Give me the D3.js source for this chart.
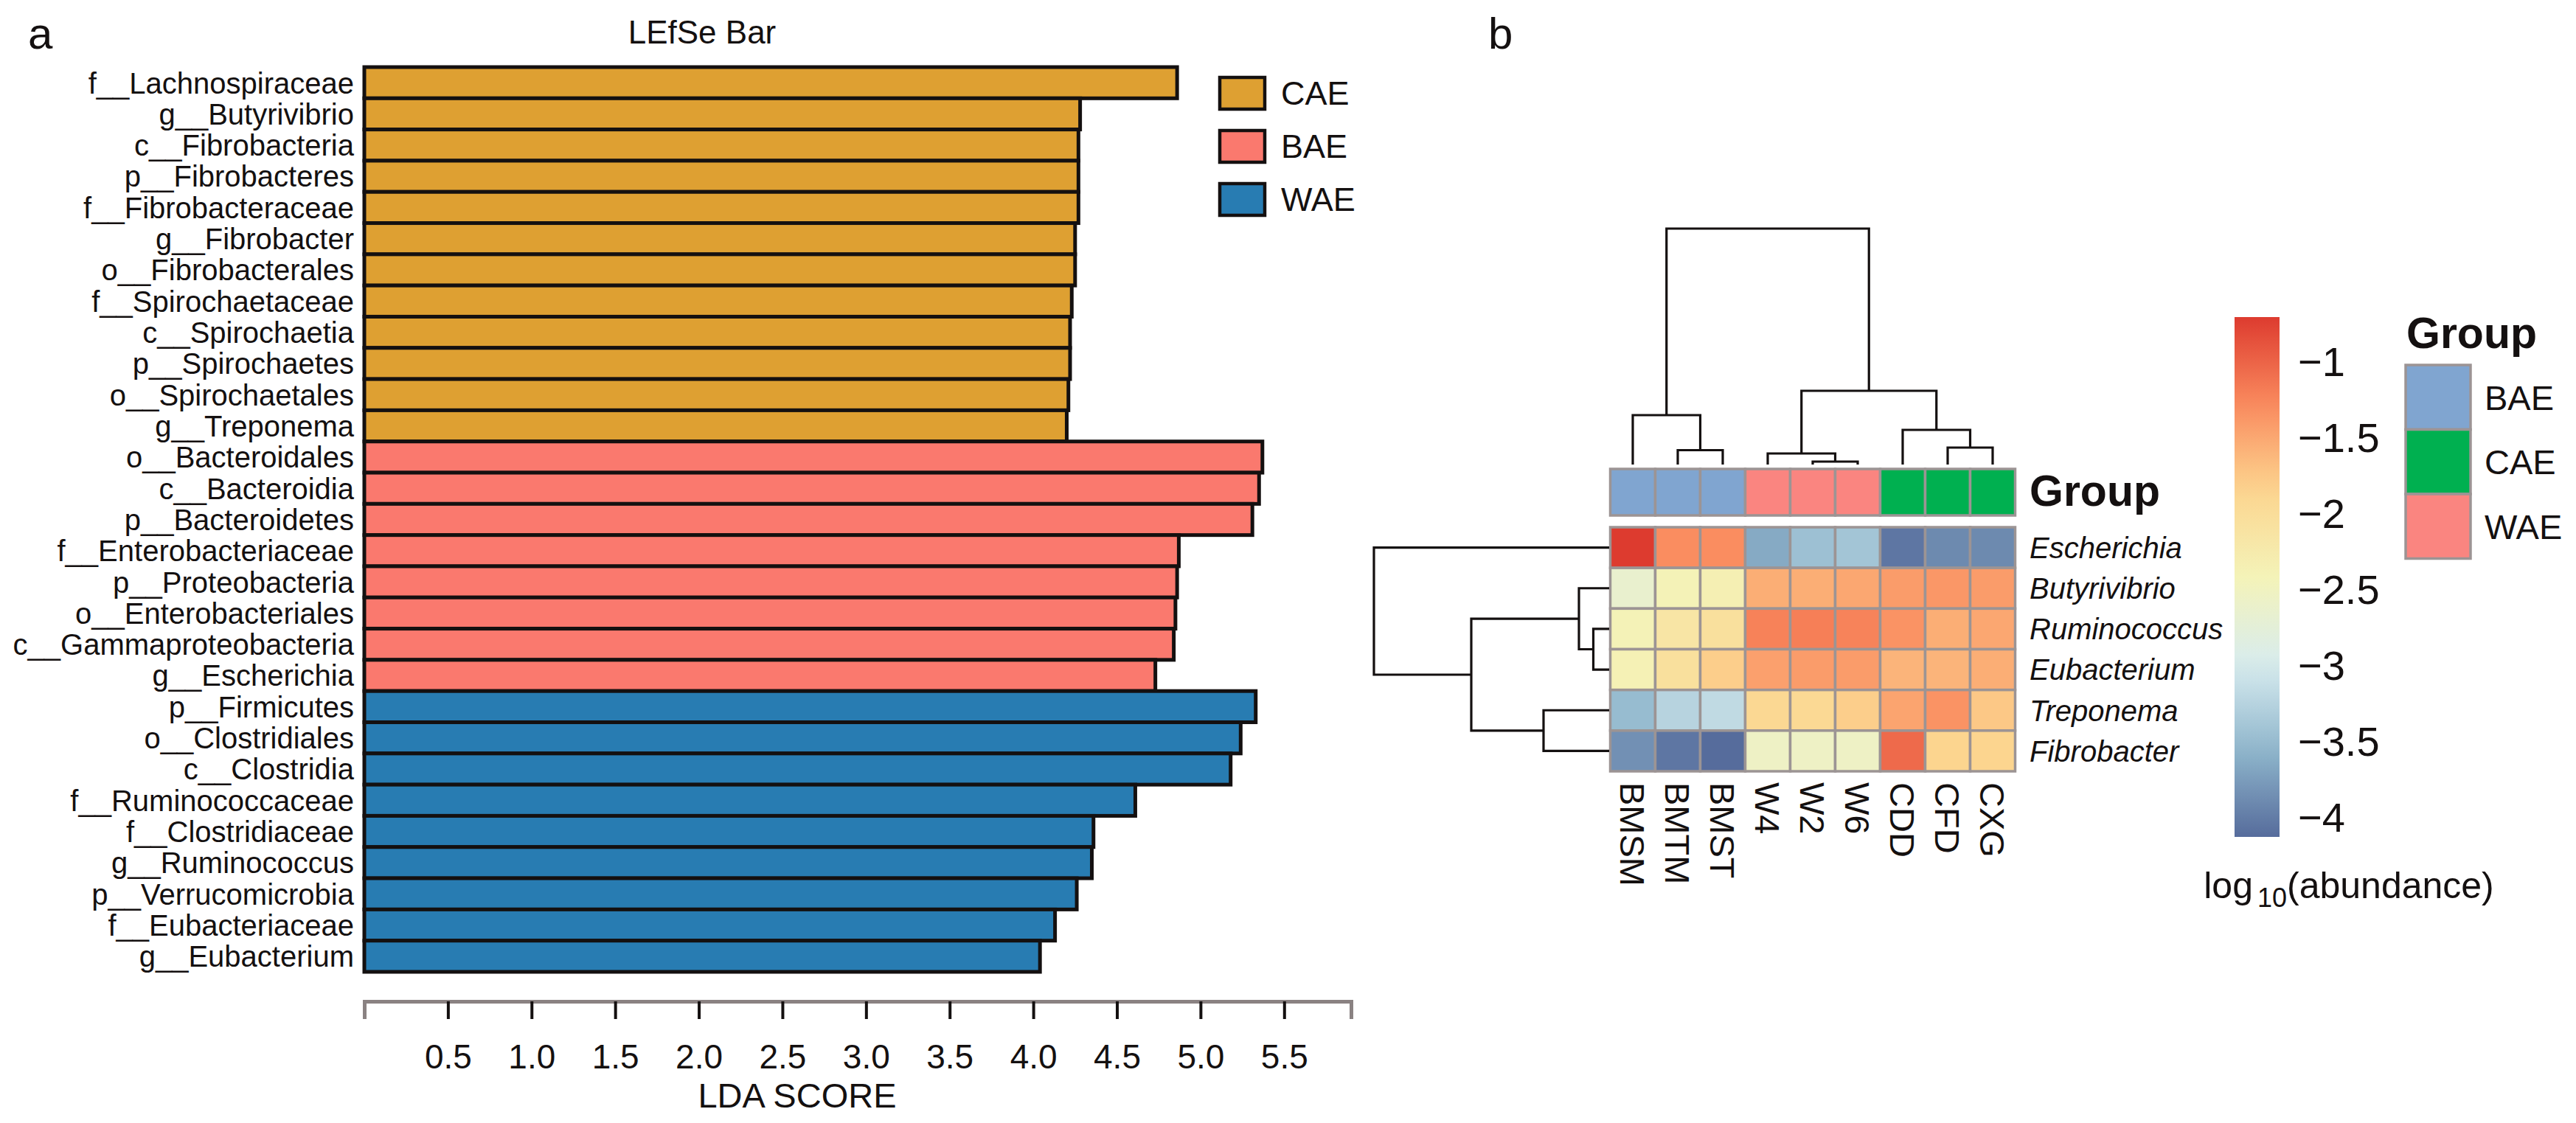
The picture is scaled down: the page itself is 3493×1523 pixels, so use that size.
<!DOCTYPE html>
<html>
<head>
<meta charset="utf-8">
<script src="https://cdn.jsdelivr.net/npm/d3@7/dist/d3.min.js"></script>
<style>
html,body{margin:0;padding:0;background:#fff;}
text{font-family:"Liberation Sans",Arial,Helvetica,sans-serif;}
</style>
</head>
<body>
<svg id="chart" width="3493" height="1523"></svg>
<script>
// ---------- Panel a data (LEfSe) ----------
const taxa = ["f__Lachnospiraceae","g__Butyrivibrio","c__Fibrobacteria","p__Fibrobacteres","f__Fibrobacteraceae","g__Fibrobacter","o__Fibrobacterales","f__Spirochaetaceae","c__Spirochaetia","p__Spirochaetes","o__Spirochaetales","g__Treponema",
  "o__Bacteroidales","c__Bacteroidia","p__Bacteroidetes","f__Enterobacteriaceae","p__Proteobacteria","o__Enterobacteriales","c__Gammaproteobacteria","g__Escherichia",
  "p__Firmicutes","o__Clostridiales","c__Clostridia","f__Ruminococcaceae","f__Clostridiaceae","g__Ruminococcus","p__Verrucomicrobia","f__Eubacteriaceae","g__Eubacterium"];
const ldaScores = [4.86,4.28,4.27,4.27,4.27,4.25,4.25,4.23,4.22,4.22,4.21,4.20,
  5.37,5.35,5.31,4.87,4.86,4.85,4.84,4.73,
  5.33,5.24,5.18,4.61,4.36,4.35,4.26,4.13,4.04];
const taxaGroup = ["CAE","CAE","CAE","CAE","CAE","CAE","CAE","CAE","CAE","CAE","CAE","CAE",
  "BAE","BAE","BAE","BAE","BAE","BAE","BAE","BAE",
  "WAE","WAE","WAE","WAE","WAE","WAE","WAE","WAE","WAE"];
const legendGroups = ["CAE","BAE","WAE"];
const ldaTicks = [0.5,1.0,1.5,2.0,2.5,3.0,3.5,4.0,4.5,5.0,5.5];
const ldaMax = 5.9;

// ---------- Panel b data (heatmap) ----------
const samples = ["BMSM","BMTM","BMST","W4","W2","W6","CDD","CFD","CXG"];
const sampleGroup = ["BAE","BAE","BAE","WAE","WAE","WAE","CAE","CAE","CAE"];
const genera = ["Escherichia","Butyrivibrio","Ruminococcus","Eubacterium","Treponema","Fibrobacter"];
const abundance = [
  [-0.71,-1.30,-1.30,-3.65,-3.45,-3.40,-4.05,-3.90,-3.90],
  [-2.65,-2.40,-2.35,-1.55,-1.55,-1.50,-1.42,-1.38,-1.42],
  [-2.40,-2.15,-2.05,-1.22,-1.20,-1.23,-1.35,-1.55,-1.50],
  [-2.38,-2.05,-1.80,-1.45,-1.42,-1.42,-1.60,-1.60,-1.55],
  [-3.50,-3.25,-3.18,-1.90,-1.92,-1.80,-1.48,-1.35,-1.75],
  [-3.85,-4.05,-4.13,-2.55,-2.55,-2.55,-1.05,-1.85,-1.85]
];
const colorTicks = [-1,-1.5,-2,-2.5,-3,-3.5,-4];
// dendrogram merges: [left, right, height]; negative = leaf index (-(i+1)), positive = merge number (1-based)
const colMerges = [[-5,-6,4],[-4,1,15],[-2,-3,19.5],[-8,-9,23],[-7,4,47],[-1,3,67],[2,5,100],[6,7,320]];
const rowMerges = [[-3,-4,21.5],[-2,1,41],[-5,-6,89],[2,3,187],[-1,4,319]];

// ---------- styles ----------
const barColors = {CAE:"#dea032", BAE:"#fa796e", WAE:"#287cb2"};
const annoColors = {BAE:"#80a5d0", CAE:"#00b050", WAE:"#fa8580"};
const heatStops = ["#566c9c","#8fb6cc","#d8ecef","#f4f3b8","#fcd58f","#fa8a5e","#dd3b2f"];
const gridGray = "#9c9494";
const ink = "#141010";

const svg = d3.select("#chart");
svg.append("rect").attr("width",3493).attr("height",1523).attr("fill","#fff");

// ================= Panel a =================
const x = d3.scaleLinear().domain([0, ldaMax]).range([494, 1832]);
const y = d3.scaleBand().domain(taxa).range([91, 1318]);

svg.append("text").attr("x",38).attr("y",66).attr("font-size",60).attr("fill",ink).text("a");
svg.append("text").attr("x",952).attr("y",59).attr("text-anchor","middle").attr("font-size",44).attr("fill",ink).text("LEfSe Bar");

svg.append("g").selectAll("rect").data(taxa).join("rect")
  .attr("x", x(0))
  .attr("y", d => y(d))
  .attr("width", (d,i) => x(ldaScores[i]) - x(0))
  .attr("height", y.bandwidth())
  .attr("fill", (d,i) => barColors[taxaGroup[i]])
  .attr("stroke", ink).attr("stroke-width", 5);

svg.append("g").selectAll("text").data(taxa).join("text")
  .attr("x", 480)
  .attr("y", d => y(d) + y.bandwidth()/2)
  .attr("dy","0.36em")
  .attr("text-anchor","end")
  .attr("font-size",40).attr("fill",ink)
  .text(d => d);

const axis = d3.axisBottom(x).tickValues(ldaTicks).tickSizeInner(24).tickSizeOuter(24)
  .tickPadding(34).tickFormat(d3.format(".1f"));
const ax = svg.append("g").attr("transform","translate(0,1358)").call(axis);
ax.select(".domain").attr("stroke","#8a8282").attr("stroke-width",5).attr("fill","none");
ax.selectAll(".tick line").attr("stroke",ink).attr("stroke-width",4);
ax.selectAll(".tick text").attr("font-size",46).attr("fill",ink)
  .attr("font-family","'Liberation Sans',Arial,sans-serif");
svg.append("text").attr("x",1081).attr("y",1502).attr("text-anchor","middle")
  .attr("font-size",47).attr("fill",ink).text("LDA SCORE");

// legend a
const lg = svg.append("g");
legendGroups.forEach((g,i) => {
  lg.append("rect").attr("x",1654).attr("y",105 + i*72).attr("width",61).attr("height",43)
    .attr("fill",barColors[g]).attr("stroke",ink).attr("stroke-width",4.5);
  lg.append("text").attr("x",1737).attr("y",126 + i*72).attr("dy","0.36em")
    .attr("font-size",45).attr("fill",ink).text(g);
});

// ================= Panel b =================
svg.append("text").attr("x",2018).attr("y",66).attr("font-size",60).attr("fill",ink).text("b");

const cx = d3.scaleBand().domain(samples).range([2183.5, 2732.5]);
const ry = d3.scaleBand().domain(genera).range([715, 1046]);
const flat = abundance.flat();
const ext = d3.extent(flat);
const colorDomain = heatStops.map((c,i) => ext[0] + (ext[1]-ext[0]) * i/(heatStops.length-1));
const color = d3.scaleLinear().domain(colorDomain).range(heatStops).interpolate(d3.interpolateRgb);

// annotation row
svg.append("g").selectAll("rect").data(samples).join("rect")
  .attr("x", d => cx(d)).attr("y",636).attr("width",cx.bandwidth()).attr("height",63)
  .attr("fill",(d,i) => annoColors[sampleGroup[i]])
  .attr("stroke",gridGray).attr("stroke-width",3.5);
svg.append("text").attr("x",2752).attr("y",686).attr("font-size",59).attr("font-weight","bold")
  .attr("fill",ink).text("Group");

// heatmap cells
const cells = [];
abundance.forEach((row,r) => row.forEach((v,c) => cells.push({r,c,v})));
svg.append("g").selectAll("rect").data(cells).join("rect")
  .attr("x", d => cx(samples[d.c])).attr("y", d => ry(genera[d.r]))
  .attr("width", cx.bandwidth()).attr("height", ry.bandwidth())
  .attr("fill", d => color(d.v))
  .attr("stroke",gridGray).attr("stroke-width",3.5);

// row labels
svg.append("g").selectAll("text").data(genera).join("text")
  .attr("x",2752).attr("y", d => ry(d) + ry.bandwidth()/2).attr("dy","0.36em")
  .attr("font-size",40).attr("font-style","italic").attr("fill",ink).text(d => d);

// column labels (rotated)
svg.append("g").selectAll("text").data(samples).join("text")
  .attr("transform", d => `translate(${cx(d)+cx.bandwidth()/2},1061) rotate(90)`)
  .attr("dy","0.36em")
  .attr("font-size",47).attr("fill",ink).text(d => d);

// dendrograms
function buildDend(merges, leafPos) {
  const pos = [], hts = [], paths = [];
  const getP = k => k < 0 ? leafPos(-k-1) : pos[k-1];
  const getH = k => k < 0 ? 0 : hts[k-1];
  merges.forEach(([a,b,h]) => {
    paths.push({pa:getP(a), ha:getH(a), pb:getP(b), hb:getH(b), h});
    pos.push((getP(a)+getP(b))/2); hts.push(h);
  });
  return paths;
}
const colH = d3.scaleLinear().domain([0,320]).range([630,310]);
const colPaths = buildDend(colMerges, i => cx(samples[i]) + cx.bandwidth()/2);
svg.append("g").selectAll("path").data(colPaths).join("path")
  .attr("d", p => `M${p.pa},${colH(p.ha)}V${colH(p.h)}H${p.pb}V${colH(p.hb)}`)
  .attr("fill","none").attr("stroke",ink).attr("stroke-width",3.2);

const rowH = d3.scaleLinear().domain([0,320]).range([2182,1862]);
const rowPaths = buildDend(rowMerges, i => ry(genera[i]) + ry.bandwidth()/2);
svg.append("g").selectAll("path").data(rowPaths).join("path")
  .attr("d", p => `M${rowH(p.ha)},${p.pa}H${rowH(p.h)}V${p.pb}H${rowH(p.hb)}`)
  .attr("fill","none").attr("stroke",ink).attr("stroke-width",3.2);

// colour bar
const cbY = d3.scaleLinear().domain([ext[1], ext[0]]).range([430, 1135]);
const defs = svg.append("defs");
const grad = defs.append("linearGradient").attr("id","cbar").attr("x1",0).attr("y1",1).attr("x2",0).attr("y2",0);
d3.range(0,1.0001,0.05).forEach(t => {
  const v = ext[0] + t*(ext[1]-ext[0]);
  grad.append("stop").attr("offset", t).attr("stop-color", color(v));
});
svg.append("rect").attr("x",3030).attr("y",cbY(ext[1])).attr("width",61)
  .attr("height", cbY(ext[0]) - cbY(ext[1])).attr("fill","url(#cbar)");
svg.append("g").selectAll("text").data(colorTicks).join("text")
  .attr("x",3116).attr("y", d => cbY(d)).attr("dy","0.36em")
  .attr("font-size",56).attr("fill",ink)
  .text(d => "\u2212" + String(Math.abs(d)));
const lt = svg.append("text").attr("x",3185).attr("y",1218).attr("text-anchor","middle")
  .attr("font-size",50).attr("fill",ink);
lt.append("tspan").text("log");
lt.append("tspan").attr("font-size",36).attr("dy",12).attr("dx",6).text("10");
lt.append("tspan").attr("dy",-12).text("(abundance)");

// group legend
svg.append("text").attr("x",3263).attr("y",472).attr("font-size",59).attr("font-weight","bold")
  .attr("fill",ink).text("Group");
const legOrder = ["BAE","CAE","WAE"];
legOrder.forEach((g,i) => {
  svg.append("rect").attr("x",3262).attr("y",495 + i*87.5).attr("width",88).attr("height",87.5)
    .attr("fill",annoColors[g]).attr("stroke",gridGray).attr("stroke-width",3.5);
  svg.append("text").attr("x",3369).attr("y",495 + i*87.5 + 44).attr("dy","0.36em")
    .attr("font-size",47).attr("fill",ink).text(g);
});
</script>
</body>
</html>
